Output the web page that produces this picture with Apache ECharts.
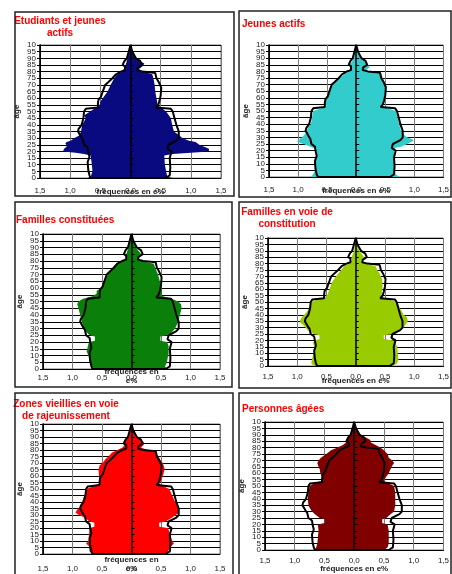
<!DOCTYPE html>
<html lang="fr">
<head>
<meta charset="UTF-8">
<title>Pyramides des âges</title>
<script src="https://cdn.jsdelivr.net/npm/echarts@6/dist/echarts.min.js"></script>
<style>body{margin:0;background:#fff}</style>
</head>
<body>
<div id="main" style="width:452px;height:574px;"></div>
<script>
// ligne noire : ensemble de la population, [âge, fréquence en %]
var refHommes = [[0,0],[0,0.66],[2,0.68],[6,0.70],[12,0.71],[16,0.68],[20,0.70],[23,0.71],[25,0.77],[29,0.79],[31,0.82],[35,0.87],[37,0.86],[40,0.81],[45,0.78],[50,0.77],[52,0.74],[53,0.54],[54,0.51],[56,0.54],[59,0.53],[61,0.49],[65,0.46],[70,0.42],[72,0.37],[75,0.30],[78,0.24],[80,0.16],[81,0.09],[84,0.09],[85,0.13],[88,0.10],[90,0.06],[95,0.03],[100,0]];
var refFemmes = [[0,0],[0,0.58],[2,0.65],[8,0.66],[15,0.65],[20,0.68],[22,0.61],[25,0.63],[28,0.76],[30,0.80],[35,0.80],[40,0.76],[45,0.73],[50,0.70],[52,0.67],[53,0.42],[55,0.46],[58,0.48],[62,0.50],[68,0.51],[72,0.47],[75,0.43],[79,0.41],[80,0.20],[81,0.11],[83,0.12],[85,0.19],[88,0.16],[90,0.09],[95,0.03],[100,0]];

// profils des quartiers (hommes à gauche, femmes à droite)
var etudiantsH = [[0,0.71],[1,0.66],[5,0.63],[10,0.64],[17,0.66],[18,0.77],[19,0.91],[20,1.12],[22,1.10],[24,1.05],[26,1.08],[27,1.06],[28,0.99],[30,0.93],[32,0.85],[35,0.82],[40,0.80],[45,0.74],[47,0.77],[50,0.67],[52,0.60],[54,0.52],[58,0.49],[60,0.46],[65,0.38],[70,0.33],[75,0.27],[78,0.22],[80,0.13],[84,0.09],[85,0.08],[90,0.05],[95,0.02],[100,0]];
var etudiantsF = [[0,0.70],[1,0.61],[5,0.59],[10,0.57],[17,0.56],[18,0.70],[19,1.00],[20,1.30],[22,1.30],[23,1.25],[25,1.14],[27,1.08],[28,0.97],[30,0.86],[32,0.81],[35,0.72],[40,0.69],[45,0.67],[50,0.59],[52,0.53],[53,0.50],[55,0.45],[60,0.43],[65,0.41],[70,0.40],[75,0.38],[78,0.36],[80,0.20],[82,0.14],[84,0.20],[86,0.23],[88,0.15],[90,0.09],[95,0.03],[100,0]];

var jeunesH = [[0,0.78],[2,0.74],[5,0.71],[10,0.70],[15,0.68],[20,0.68],[22,0.74],[24,0.85],[26,0.97],[27,1.02],[28,0.99],[30,0.94],[32,0.89],[35,0.85],[38,0.82],[40,0.78],[45,0.76],[50,0.74],[52,0.60],[54,0.51],[56,0.54],[60,0.52],[62,0.48],[65,0.45],[70,0.40],[73,0.36],[75,0.28],[78,0.20],[80,0.13],[84,0.09],[85,0.11],[90,0.04],[95,0.02],[100,0]];
var jeunesF = [[0,0.74],[2,0.68],[5,0.65],[20,0.65],[22,0.66],[23,0.77],[25,0.88],[27,0.97],[28,0.99],[29,0.94],[30,0.88],[32,0.82],[35,0.77],[40,0.74],[45,0.71],[50,0.68],[52,0.54],[54,0.45],[56,0.48],[60,0.50],[65,0.51],[70,0.50],[73,0.48],[76,0.45],[78,0.43],[79,0.26],[81,0.17],[83,0.23],[85,0.20],[88,0.13],[90,0.08],[95,0.03],[100,0]];

var constitueesH = [[0,0.62],[2,0.68],[5,0.71],[10,0.73],[13,0.76],[17,0.74],[20,0.72],[21,0.62],[24,0.62],[25,0.71],[27,0.76],[30,0.81],[35,0.84],[40,0.87],[45,0.90],[48,0.92],[50,0.90],[52,0.82],[54,0.65],[56,0.59],[58,0.59],[60,0.51],[63,0.48],[65,0.46],[70,0.40],[75,0.32],[78,0.26],[80,0.18],[82,0.09],[85,0.09],[90,0.05],[95,0.02],[100,0]];
var constitueesF = [[0,0.60],[2,0.57],[5,0.60],[12,0.63],[17,0.63],[20,0.60],[21,0.49],[24,0.49],[25,0.60],[27,0.68],[30,0.74],[35,0.79],[40,0.82],[45,0.85],[48,0.84],[50,0.79],[52,0.68],[54,0.52],[60,0.51],[65,0.48],[70,0.45],[75,0.40],[78,0.38],[80,0.16],[82,0.10],[84,0.17],[86,0.15],[90,0.07],[95,0.02],[100,0]];

var enVoieH = [[0,0.71],[2,0.76],[5,0.75],[10,0.72],[15,0.71],[18,0.73],[20,0.71],[21,0.62],[24,0.62],[25,0.72],[28,0.82],[30,0.86],[32,0.90],[34,0.95],[36,0.95],[38,0.92],[40,0.88],[42,0.84],[45,0.80],[50,0.76],[52,0.65],[54,0.51],[56,0.48],[60,0.45],[65,0.41],[70,0.34],[75,0.25],[78,0.20],[80,0.12],[83,0.06],[85,0.07],[90,0.03],[95,0.01],[100,0]];
var enVoieF = [[0,0.62],[2,0.71],[5,0.73],[10,0.72],[15,0.71],[18,0.68],[20,0.65],[21,0.48],[24,0.48],[25,0.65],[28,0.76],[30,0.82],[32,0.85],[35,0.89],[38,0.88],[40,0.82],[45,0.76],[50,0.71],[52,0.56],[54,0.44],[58,0.45],[62,0.46],[68,0.45],[72,0.41],[75,0.37],[78,0.34],[80,0.17],[82,0.08],[84,0.16],[86,0.13],[90,0.06],[95,0.02],[100,0]];

var vieilliesH = [[0,0.67],[2,0.71],[6,0.72],[8,0.77],[10,0.73],[15,0.72],[20,0.71],[21,0.63],[24,0.63],[25,0.71],[28,0.80],[30,0.89],[32,0.95],[34,0.92],[36,0.88],[40,0.84],[45,0.80],[50,0.76],[52,0.66],[54,0.55],[58,0.52],[60,0.55],[65,0.56],[68,0.54],[70,0.49],[73,0.44],[75,0.39],[78,0.33],[80,0.24],[82,0.15],[84,0.12],[86,0.14],[88,0.11],[90,0.07],[95,0.03],[100,0]];
var vieilliesF = [[0,0.61],[3,0.63],[6,0.67],[8,0.72],[10,0.69],[13,0.67],[17,0.64],[20,0.62],[21,0.47],[24,0.47],[25,0.58],[28,0.69],[30,0.75],[32,0.81],[35,0.81],[37,0.78],[40,0.74],[45,0.69],[50,0.64],[52,0.55],[54,0.47],[56,0.50],[60,0.53],[63,0.55],[66,0.56],[70,0.53],[73,0.48],[75,0.46],[78,0.41],[80,0.27],[82,0.16],[84,0.21],[86,0.21],[88,0.15],[90,0.07],[95,0.03],[100,0]];

var ageesH = [[0,0.67],[2,0.64],[5,0.62],[10,0.61],[15,0.60],[20,0.61],[21,0.50],[24,0.50],[25,0.58],[28,0.66],[30,0.71],[33,0.75],[35,0.77],[40,0.78],[45,0.77],[50,0.75],[52,0.68],[54,0.56],[56,0.53],[58,0.55],[60,0.57],[63,0.58],[65,0.60],[68,0.62],[70,0.60],[72,0.56],[75,0.47],[78,0.39],[80,0.28],[82,0.19],[84,0.14],[86,0.14],[88,0.11],[90,0.07],[95,0.03],[100,0]];
var ageesF = [[0,0.50],[2,0.56],[5,0.58],[15,0.58],[20,0.56],[21,0.47],[24,0.47],[25,0.54],[28,0.61],[30,0.67],[35,0.69],[45,0.69],[50,0.67],[52,0.58],[54,0.50],[56,0.52],[60,0.58],[63,0.61],[66,0.64],[68,0.67],[70,0.64],[72,0.58],[75,0.56],[78,0.50],[80,0.44],[82,0.36],[84,0.28],[86,0.27],[88,0.19],[90,0.11],[95,0.04],[100,0]];

var titres = ['Etudiants et jeunes\nactifs', 'Jeunes actifs', 'Familles constituées', 'Familles en voie de\nconstitution', 'Zones vieillies en voie\nde rajeunissement', 'Personnes âgées'];
var couleurs = ['#0a0a80', '#33cccc', '#0a800a', '#99cc00', '#ff0000', '#800000'];
var hommes = [etudiantsH, jeunesH, constitueesH, enVoieH, vieilliesH, ageesH];
var femmes = [etudiantsF, jeunesF, constitueesF, enVoieF, vieilliesF, ageesF];

// mise en page des 6 cadres
var panneaux = [
  { box: [15, 12, 219, 184], grid: [40, 45, 181, 133], t: [60, 15, 'center'], lm: 9, ng: 9, nom: 'fréquences en e%' },
  { box: [239, 11, 212, 186], grid: [269, 45, 177, 132], t: [242, 18, 'left'], lm: 9, ng: 9, nom: 'fréquences en e%' },
  { box: [15, 202, 217, 185], grid: [43, 234, 177, 135], t: [16, 214, 'left'], lm: 5, ng: -2, nom: 'fréquences en\ne%' },
  { box: [239, 202, 212, 186], grid: [268, 238, 176, 128], t: [287, 206, 'center'], lm: 7, ng: 10, nom: 'fréquences en e%' },
  { box: [15, 393, 218, 190], grid: [43, 424, 177, 133], t: [66, 398, 'center'], lm: 11, ng: 1, nom: 'fréquences en\ne%' },
  { box: [239, 393, 212, 190], grid: [265, 422, 181, 131], t: [242, 403, 'left'], lm: 7, ng: 14, nom: 'fréquences en e%' }
];

function pyramide(h, f) {
  return function (params, api) {
    var pts = [api.coord([0, 0])];
    f.forEach(function (d) { pts.push(api.coord([d[1], d[0]])); });
    for (var i = h.length - 1; i >= 0; i--) pts.push(api.coord([-h[i][1], h[i][0]]));
    return { type: 'polygon', shape: { points: pts }, style: { fill: api.visual('color') } };
  };
}

var policeAxe = { fontSize: 8, color: '#222', fontFamily: 'Liberation Sans' };
var option = { animation: false, title: [], grid: [], xAxis: [], yAxis: [], series: [], graphic: [] };

panneaux.forEach(function (p, i) {
  option.graphic.push({ type: 'rect', shape: { x: p.box[0], y: p.box[1], width: p.box[2], height: p.box[3] },
    style: { fill: 'none', stroke: '#222', lineWidth: 1.5 }, z: 100 });
  option.title.push({ text: titres[i], left: p.t[0], top: p.t[1], textAlign: p.t[2], padding: 0,
    textStyle: { color: '#ff0000', fontSize: 10, fontWeight: 'bold', fontFamily: 'Liberation Sans', lineHeight: 12, align: p.t[2] } });
  option.grid.push({ left: p.grid[0], top: p.grid[1], width: p.grid[2], height: p.grid[3],
    show: true, borderColor: '#777', borderWidth: 1 });
  option.xAxis.push({ gridIndex: i, type: 'value', min: -1.5, max: 1.5, interval: 0.5,
    name: p.nom, nameLocation: 'middle', nameGap: p.ng, nameMoveOverlap: false,
    nameTextStyle: { fontSize: 8, fontWeight: 'bold', color: '#222', fontFamily: 'Liberation Sans', lineHeight: 9 },
    axisLine: { lineStyle: { color: '#000' } },
    axisTick: { show: false },
    axisLabel: Object.assign({ margin: p.lm, hideOverlap: false,
      formatter: function (v) { return Math.abs(v).toFixed(1).replace('.', ','); } }, policeAxe),
    splitLine: { lineStyle: { color: '#7a7a7a', width: 1 } } });
  // étiquettes des dizaines (0, 10 ... "10" pour 100)
  option.yAxis.push({ gridIndex: i, type: 'value', position: 'left', min: 0, max: 100, interval: 10,
    name: 'âge', nameLocation: 'middle', nameGap: 19, nameRotate: 90, nameMoveOverlap: false,
    nameTextStyle: { fontSize: 8, fontWeight: 'bold', color: '#222', fontFamily: 'Liberation Sans' },
    axisLine: { show: false, onZero: false }, axisTick: { show: false }, splitLine: { show: false },
    axisLabel: Object.assign({ margin: 4, hideOverlap: false, showMinLabel: true, showMaxLabel: true,
      formatter: function (v) { return v === 100 ? '10' : String(v); } }, policeAxe) });
  // étiquettes 5, 15 ... 95, ligne d'axe et quadrillage
  option.yAxis.push({ gridIndex: i, type: 'value', position: 'left', min: 0, max: 100, interval: 5,
    axisLine: { onZero: false, lineStyle: { color: '#000' } },
    axisTick: { length: 2, lineStyle: { color: '#000' } },
    axisLabel: Object.assign({ margin: 4, hideOverlap: false, showMinLabel: false, showMaxLabel: false,
      formatter: function (v) { return v % 10 === 0 ? '' : String(v); } }, policeAxe),
    splitLine: { lineStyle: { color: '#000', width: 1 } } });
  [true, false].forEach(function (inside) {
    option.yAxis.push({ gridIndex: i, type: 'value', position: 'left', min: 0, max: 100, interval: 5, z: 10,
      axisLine: { onZero: true, lineStyle: { color: '#000', width: 1.5 } },
      axisTick: { inside: inside, length: 3, lineStyle: { color: '#000', width: 1 } },
      axisLabel: { show: false }, splitLine: { show: false } });
  });
  option.series.push({ type: 'custom', xAxisIndex: i, yAxisIndex: i * 4 + 1, data: [[0, 0]], silent: true, z: 2,
    itemStyle: { color: couleurs[i] }, renderItem: pyramide(hommes[i], femmes[i]) });
  option.series.push({ type: 'line', xAxisIndex: i, yAxisIndex: i * 4 + 1, z: 4, showSymbol: false, silent: true,
    lineStyle: { color: '#000', width: 2 }, data: refHommes.map(function (d) { return [-d[1], d[0]]; }) });
  option.series.push({ type: 'line', xAxisIndex: i, yAxisIndex: i * 4 + 1, z: 4, showSymbol: false, silent: true,
    lineStyle: { color: '#000', width: 2 }, data: refFemmes.map(function (d) { return [d[1], d[0]]; }) });
});

var myChart = echarts.init(document.getElementById('main'));
myChart.setOption(option);
</script>
</body>
</html>
